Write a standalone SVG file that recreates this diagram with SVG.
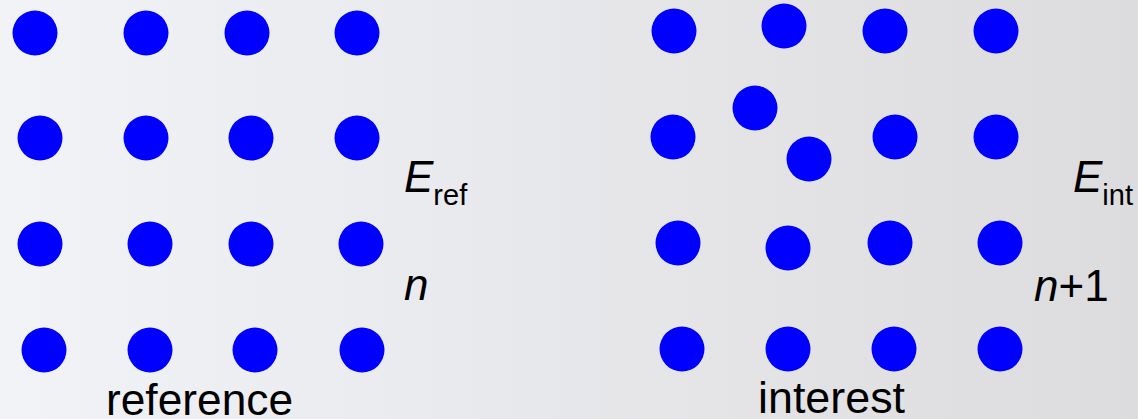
<svg xmlns="http://www.w3.org/2000/svg" width="1138" height="419" viewBox="0 0 1138 419">
<defs>
<linearGradient id="bg" x1="0" y1="0" x2="1" y2="0">
<stop offset="0" stop-color="#f2f3f7"/>
<stop offset="1" stop-color="#dcdcde"/>
</linearGradient>
</defs>
<style>
.a{fill:#0000ff}
.t{font-family:"Liberation Sans",Arial,sans-serif;font-size:44px;fill:#000}
.i{font-style:italic}
.s{font-size:29px}
</style>
<rect width="1138" height="419" fill="url(#bg)"/>
<g id="reference-lattice">
<circle class="a" cx="35" cy="33" r="22.5"/>
<circle class="a" cx="146" cy="33" r="22.5"/>
<circle class="a" cx="247" cy="33" r="22.5"/>
<circle class="a" cx="357" cy="33" r="22.5"/>
<circle class="a" cx="40" cy="138" r="22.5"/>
<circle class="a" cx="146" cy="138" r="22.5"/>
<circle class="a" cx="251" cy="138" r="22.5"/>
<circle class="a" cx="357" cy="138" r="22.5"/>
<circle class="a" cx="40" cy="244" r="22.5"/>
<circle class="a" cx="150" cy="244" r="22.5"/>
<circle class="a" cx="251" cy="244" r="22.5"/>
<circle class="a" cx="361" cy="244" r="22.5"/>
<circle class="a" cx="44" cy="350" r="22.5"/>
<circle class="a" cx="150" cy="350" r="22.5"/>
<circle class="a" cx="255" cy="350" r="22.5"/>
<circle class="a" cx="362" cy="350" r="22.5"/>
</g>
<g id="interest-lattice">
<circle class="a" cx="674" cy="31" r="22.5"/>
<circle class="a" cx="784" cy="26" r="22.5"/>
<circle class="a" cx="885" cy="31" r="22.5"/>
<circle class="a" cx="996" cy="31" r="22.5"/>
<circle class="a" cx="673" cy="137" r="22.5"/>
<circle class="a" cx="755" cy="108" r="22.5"/>
<circle class="a" cx="809" cy="159" r="22.5"/>
<circle class="a" cx="895" cy="137" r="22.5"/>
<circle class="a" cx="996" cy="137" r="22.5"/>
<circle class="a" cx="678" cy="243" r="22.5"/>
<circle class="a" cx="788" cy="248" r="22.5"/>
<circle class="a" cx="890" cy="243" r="22.5"/>
<circle class="a" cx="1000" cy="243" r="22.5"/>
<circle class="a" cx="682" cy="349" r="22.5"/>
<circle class="a" cx="788" cy="349" r="22.5"/>
<circle class="a" cx="894" cy="349" r="22.5"/>
<circle class="a" cx="1000" cy="349" r="22.5"/>
</g>
<g id="labels">
<text class="t" x="404" y="192"><tspan class="i">E</tspan><tspan class="s" dy="13">ref</tspan></text>
<text class="t i" x="404" y="300">n</text>
<text class="t" x="1073" y="192"><tspan class="i">E</tspan><tspan class="s" dy="13">int</tspan></text>
<text class="t" x="1034" y="301"><tspan class="i">n</tspan>+1</text>
<text class="t" x="106" y="415" textLength="187" lengthAdjust="spacingAndGlyphs">reference</text>
<text class="t" x="758" y="413" textLength="147" lengthAdjust="spacingAndGlyphs">interest</text>
</g>
</svg>
